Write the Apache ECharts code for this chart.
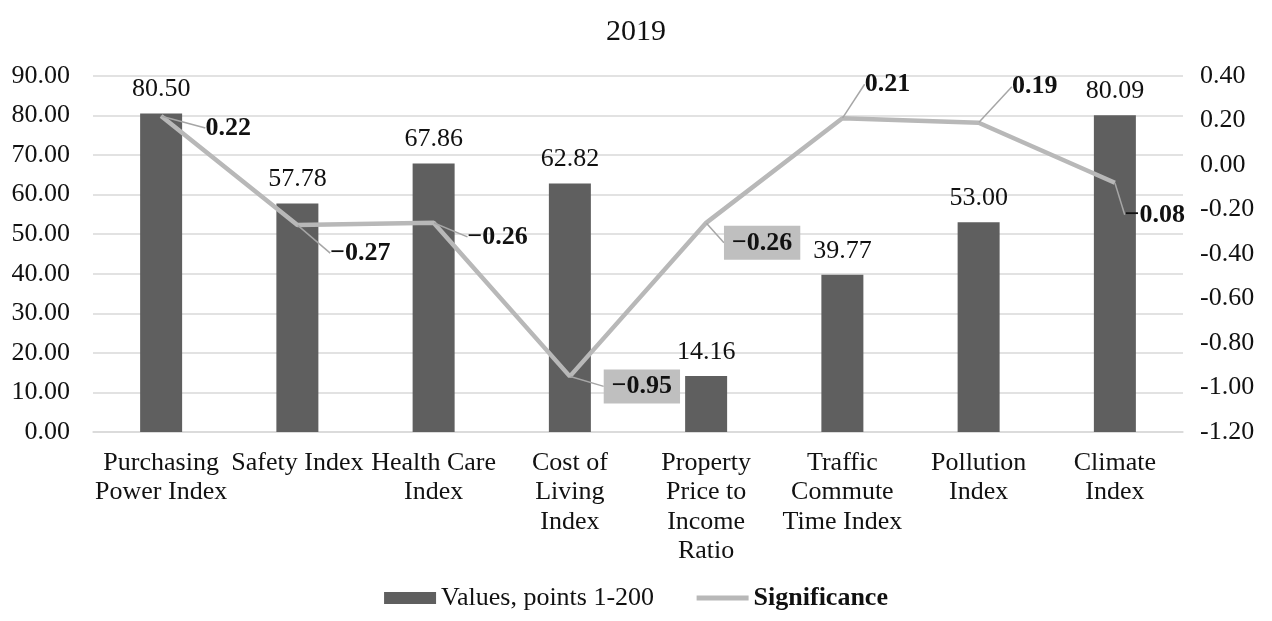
<!DOCTYPE html>
<html>
<head>
<meta charset="utf-8">
<title>2019</title>
<script src="https://cdn.jsdelivr.net/npm/echarts@6/dist/echarts.min.js"></script>
<style>
  html, body { margin: 0; padding: 0; background: #fff; }
  #chart { width: 1272px; height: 621px; }
</style>
</head>
<body>
<div id="chart"></div>
<script>
// data
const categories = [
  "Purchasing\nPower Index",
  "Safety Index",
  "Health Care\nIndex",
  "Cost of\nLiving\nIndex",
  "Property\nPrice to\nIncome\nRatio",
  "Traffic\nCommute\nTime Index",
  "Pollution\nIndex",
  "Climate\nIndex",
];
const values = [80.50, 57.78, 67.86, 62.82, 14.16, 39.77, 53.00, 80.09];
const significance = [0.22, -0.27, -0.26, -0.95, -0.26, 0.21, 0.19, -0.08];

// label placement for the significance callouts (offset from the point)
const sigOffsets = [[67, 12], [63, 28], [64, 14], [72, 10], [56, 20], [45, -34], [56, -36], [40, 32]];
const boxedLabels = [3, 4];

const FONT = "'Liberation Serif', 'Times New Roman', serif";
const BAR_COLOR = "#5f5f5f";
const LINE_COLOR = "#b8b8b8";
const TEXT_COLOR = "#111";

function fmt2(v) {
  if (Math.abs(v) < 1e-9) v = 0;
  return v.toFixed(2);
}

const sigData = significance.map((v, i) => {
  if (!boxedLabels.includes(i)) return v;
  return { value: v, label: { backgroundColor: "#bfbfbf", padding: [5, 8, 3, 8] } };
});

const chart = echarts.init(document.getElementById("chart"));
chart.setOption({
  animation: false,
  textStyle: { fontFamily: FONT },
  title: {
    text: "2019",
    left: "center",
    top: 12,
    textStyle: { fontFamily: FONT, fontSize: 30, fontWeight: "normal", color: TEXT_COLOR },
  },
  grid: { left: 93, right: 89, top: 76, bottom: 189 },
  legend: {
    bottom: 5,
    left: "center",
    itemWidth: 52,
    itemHeight: 12,
    itemGap: 40,
    textStyle: { fontFamily: FONT, fontSize: 26, color: TEXT_COLOR },
    data: [
      { name: "Values, points 1-200", icon: "rect" },
      {
        name: "Significance",
        itemStyle: { opacity: 0 },
        lineStyle: { width: 5, color: LINE_COLOR },
        textStyle: { fontWeight: "bold" },
      },
    ],
  },
  xAxis: {
    type: "category",
    data: categories,
    axisLine: { lineStyle: { color: "#d9d9d9", width: 1.5 } },
    axisTick: { show: false },
    axisLabel: {
      interval: 0,
      margin: 16,
      fontFamily: FONT,
      fontSize: 26,
      lineHeight: 29.5,
      color: TEXT_COLOR,
    },
  },
  yAxis: [
    {
      type: "value",
      min: 0,
      max: 90,
      interval: 10,
      axisLine: { show: false },
      axisTick: { show: false },
      splitLine: { lineStyle: { color: "#d9d9d9", width: 1.5 } },
      axisLabel: { margin: 23, fontFamily: FONT, fontSize: 26, color: TEXT_COLOR, formatter: fmt2 },
    },
    {
      type: "value",
      min: -1.2,
      max: 0.4,
      interval: 0.2,
      axisLine: { show: false },
      axisTick: { show: false },
      splitLine: { show: false },
      axisLabel: { margin: 17, fontFamily: FONT, fontSize: 26, color: TEXT_COLOR, formatter: fmt2 },
    },
  ],
  series: [
    {
      name: "Values, points 1-200",
      type: "bar",
      data: values,
      barWidth: 42,
      itemStyle: { color: BAR_COLOR },
      label: {
        show: true,
        position: "top",
        distance: 11,
        fontFamily: FONT,
        fontSize: 26,
        color: TEXT_COLOR,
        formatter: (p) => fmt2(p.value),
      },
    },
    {
      name: "Significance",
      type: "line",
      yAxisIndex: 1,
      data: sigData,
      symbol: "circle",
      symbolSize: 1,
      showSymbol: true,
      itemStyle: { color: LINE_COLOR },
      lineStyle: { color: LINE_COLOR, width: 4.5 },
      z: 5,
      label: {
        show: true,
        position: "inside",
        fontFamily: FONT,
        fontSize: 26,
        fontWeight: "bold",
        color: TEXT_COLOR,
        formatter: (p) => {
          const v = typeof p.value === "object" ? p.value.value : p.value;
          return (v < 0 ? "\u2212" : "") + Math.abs(v).toFixed(2);
        },
      },
      labelLine: {
        show: true,
        lineStyle: { color: "#a6a6a6", width: 1.5 },
      },
      labelLayout: (params) => {
        const off = sigOffsets[params.dataIndex] || [0, 0];
        return { dx: off[0], dy: off[1] };
      },
    },
  ],
});
</script>
</body>
</html>
